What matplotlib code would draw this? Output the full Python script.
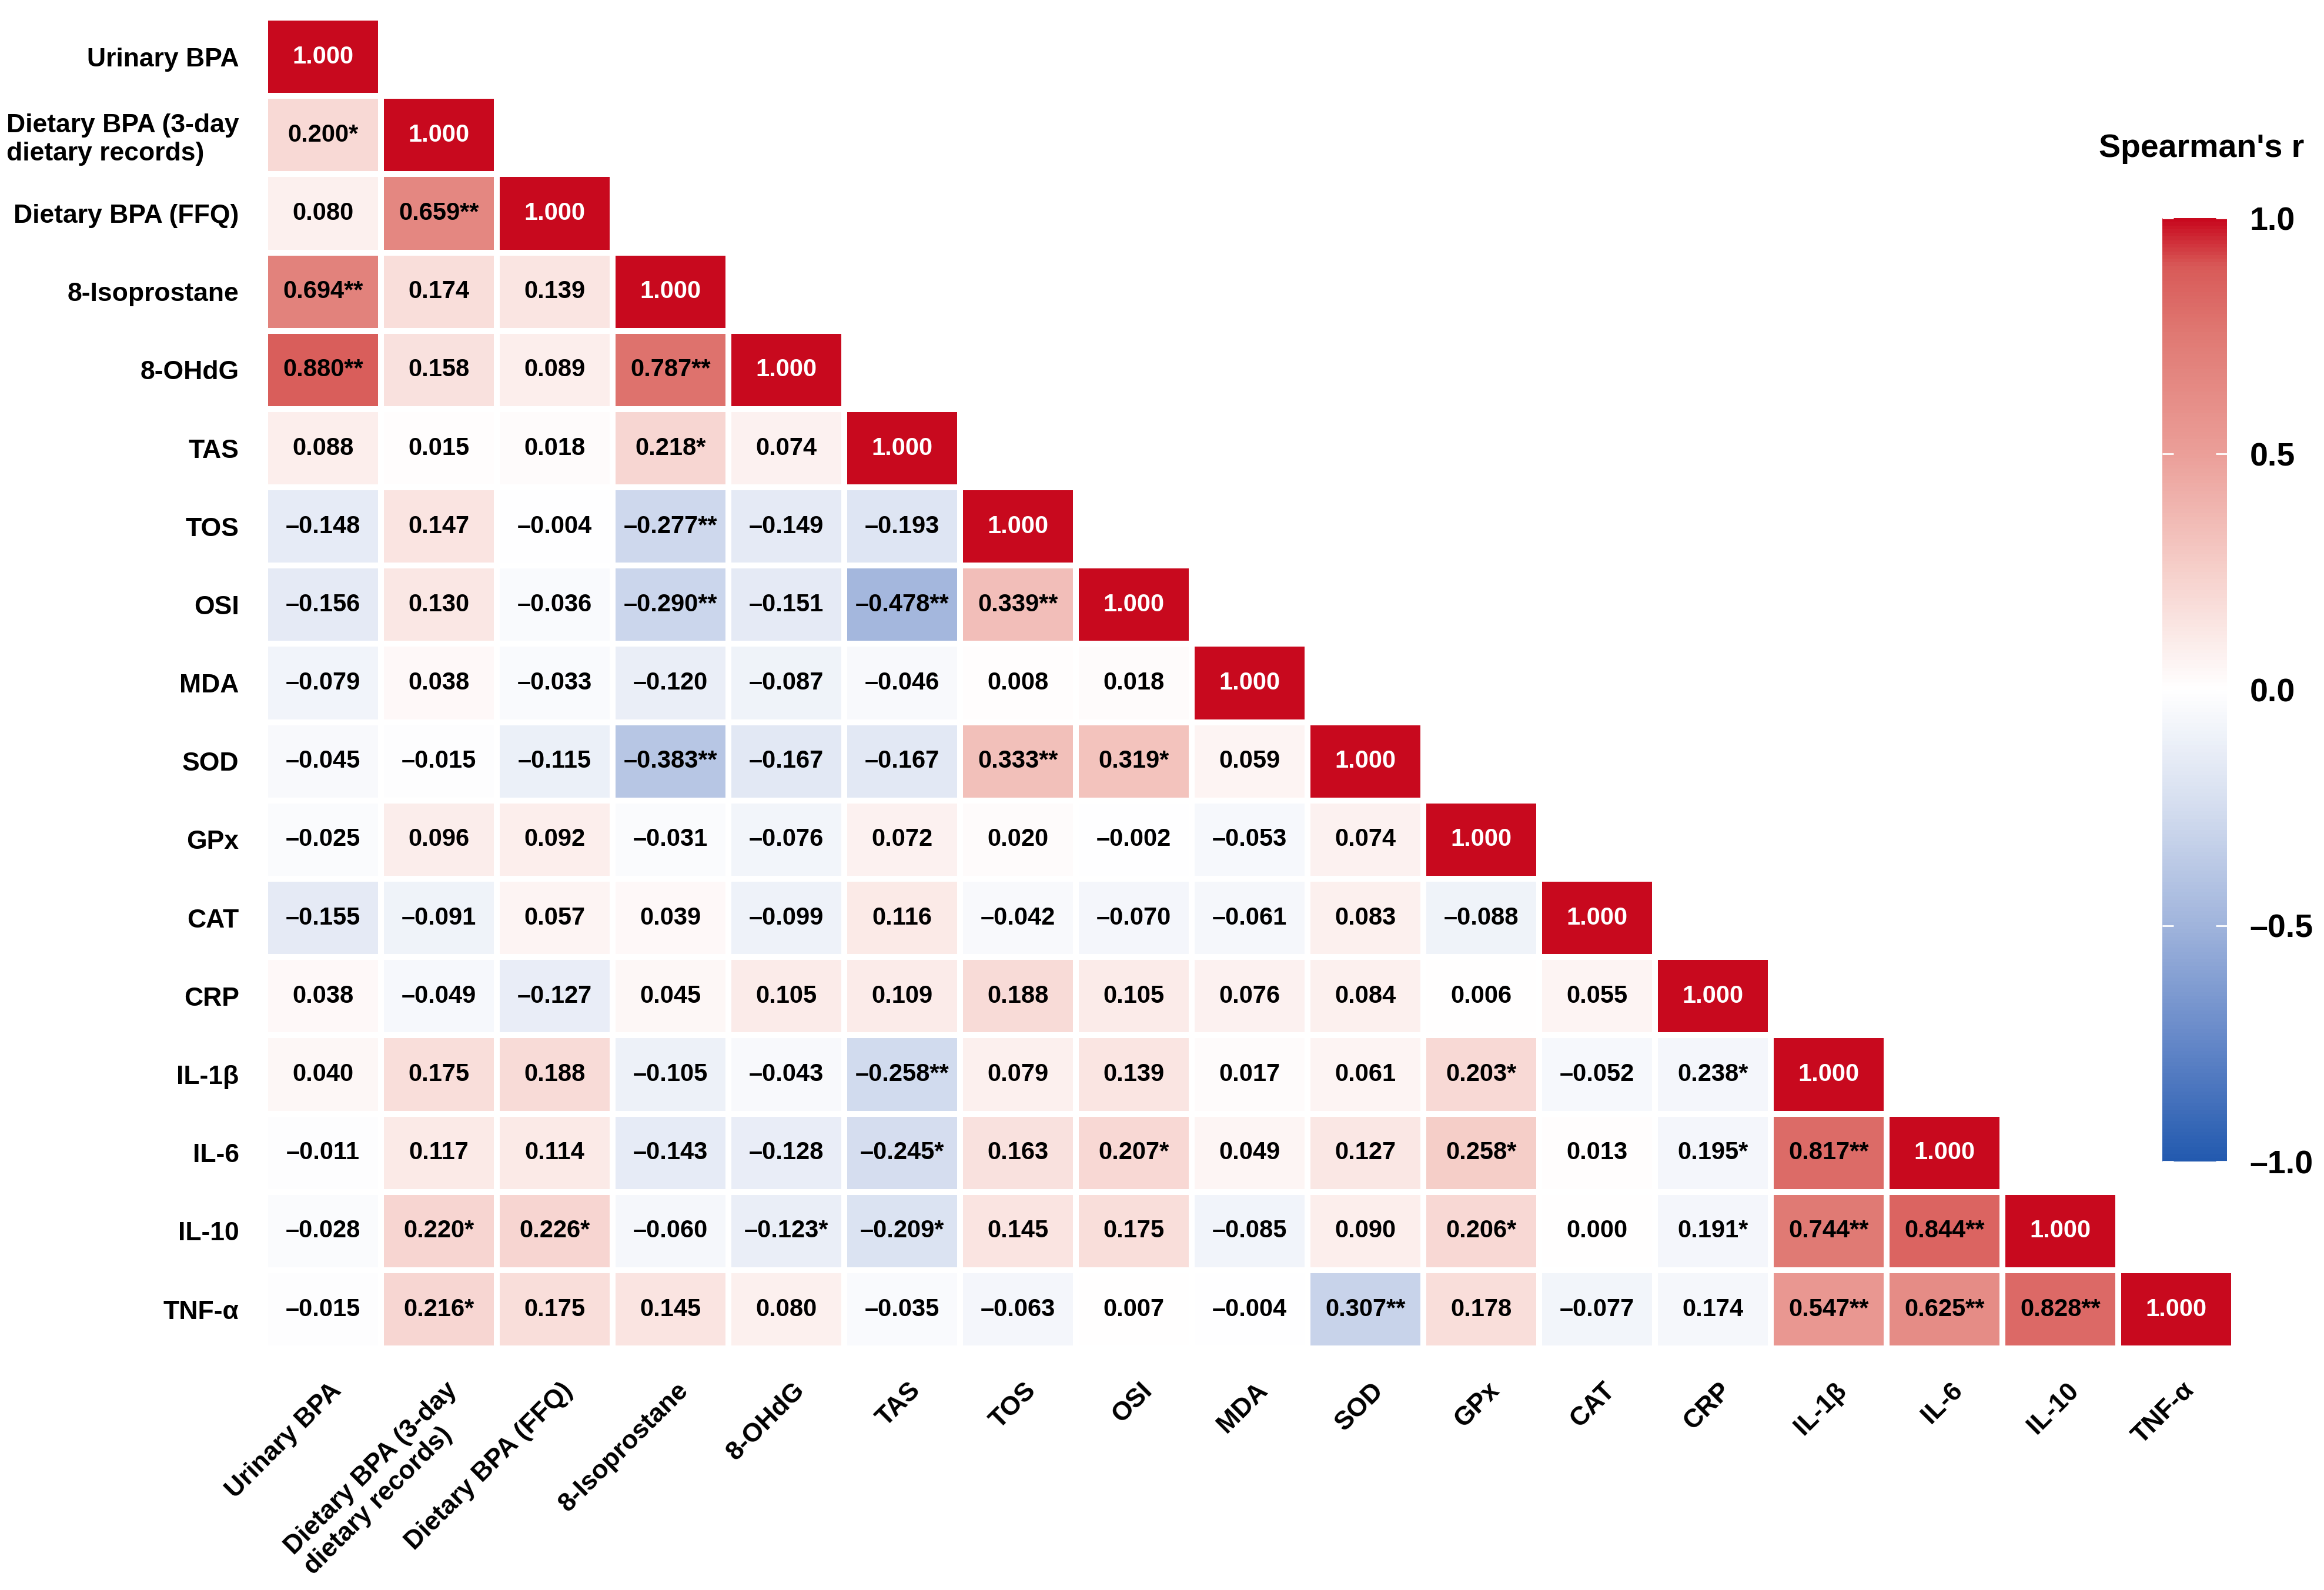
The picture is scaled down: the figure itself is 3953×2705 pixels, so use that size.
import numpy as np
import matplotlib
matplotlib.use("Agg")
import matplotlib.pyplot as plt
from matplotlib.colors import LinearSegmentedColormap

plt.rcParams['font.family'] = ['Liberation Sans', 'DejaVu Sans']
plt.rcParams['font.weight'] = 'bold'

# variable names (rows and columns)
variables = ["Urinary BPA", "Dietary BPA (3-day\ndietary records)", "Dietary BPA (FFQ)",
             "8-Isoprostane", "8-OHdG", "TAS", "TOS", "OSI", "MDA", "SOD", "GPx",
             "CAT", "CRP", "IL-1β", "IL-6", "IL-10", "TNF-α"]

# lower triangle of Spearman's r as printed in the cells
cells = [
    ["1.000"],
    ["0.200*", "1.000"],
    ["0.080", "0.659**", "1.000"],
    ["0.694**", "0.174", "0.139", "1.000"],
    ["0.880**", "0.158", "0.089", "0.787**", "1.000"],
    ["0.088", "0.015", "0.018", "0.218*", "0.074", "1.000"],
    ["-0.148", "0.147", "-0.004", "-0.277**", "-0.149", "-0.193", "1.000"],
    ["-0.156", "0.130", "-0.036", "-0.290**", "-0.151", "-0.478**", "0.339**", "1.000"],
    ["-0.079", "0.038", "-0.033", "-0.120", "-0.087", "-0.046", "0.008", "0.018", "1.000"],
    ["-0.045", "-0.015", "-0.115", "-0.383**", "-0.167", "-0.167", "0.333**", "0.319*", "0.059", "1.000"],
    ["-0.025", "0.096", "0.092", "-0.031", "-0.076", "0.072", "0.020", "-0.002", "-0.053", "0.074", "1.000"],
    ["-0.155", "-0.091", "0.057", "0.039", "-0.099", "0.116", "-0.042", "-0.070", "-0.061", "0.083", "-0.088", "1.000"],
    ["0.038", "-0.049", "-0.127", "0.045", "0.105", "0.109", "0.188", "0.105", "0.076", "0.084", "0.006", "0.055", "1.000"],
    ["0.040", "0.175", "0.188", "-0.105", "-0.043", "-0.258**", "0.079", "0.139", "0.017", "0.061", "0.203*", "-0.052", "0.238*", "1.000"],
    ["-0.011", "0.117", "0.114", "-0.143", "-0.128", "-0.245*", "0.163", "0.207*", "0.049", "0.127", "0.258*", "0.013", "0.195*", "0.817**", "1.000"],
    ["-0.028", "0.220*", "0.226*", "-0.060", "-0.123*", "-0.209*", "0.145", "0.175", "-0.085", "0.090", "0.206*", "0.000", "0.191*", "0.744**", "0.844**", "1.000"],
    ["-0.015", "0.216*", "0.175", "0.145", "0.080", "-0.035", "-0.063", "0.007", "-0.004", "0.307**", "0.178", "-0.077", "0.174", "0.547**", "0.625**", "0.828**", "1.000"],
]

# cells whose fill colour in the figure does not follow the printed value
shade_override = {(13, 12): -0.07, (14, 12): -0.07, (15, 12): -0.07,
                  (16, 12): -0.06, (16, 9): -0.31}

cbar_ticks = [-1.0, -0.5, 0.0, 0.5, 1.0]

n = len(variables)
vals = np.full((n, n), np.nan)
for i, row in enumerate(cells):
    for j, s in enumerate(row):
        vals[i, j] = float(s.rstrip('*'))
shade = vals.copy()
for (i, j), v in shade_override.items():
    shade[i, j] = v
masked = np.ma.masked_invalid(shade)

cmap = LinearSegmentedColormap.from_list('spearman', [
    (0.0, '#235aaf'), (0.125, '#6487c8'), (0.25, '#a0b4dc'), (0.375, '#d4ddef'),
    (0.5, '#ffffff'), (0.625, '#f6d0cb'), (0.75, '#eb9f99'), (0.875, '#e07a74'),
    (0.95, '#d85a58'), (1.0, '#c8091e')])

fig = plt.figure(figsize=(3953 / 200, 2705 / 200), dpi=200)
ax = fig.add_axes([0.1141, 0.1519, 0.8472, 0.8370])
mesh = ax.pcolormesh(np.arange(n + 1), np.arange(n + 1), masked, cmap=cmap,
                     vmin=-1, vmax=1, edgecolors='white', linewidth=3)
ax.set_xlim(0, n)
ax.set_ylim(n, 0)
for s in ax.spines.values():
    s.set_visible(False)

ax.set_xticks([])
ax.set_yticks(np.arange(n) + 0.5)
ax.set_yticklabels(variables, fontsize=16, fontweight='bold')
ax.tick_params(axis='y', length=0, pad=16)
for lbl in ax.get_yticklabels():
    lbl.set_multialignment('left')

# numbers in the cells
for i, row in enumerate(cells):
    for j, s in enumerate(row):
        col = 'white' if vals[i, j] >= 0.95 else 'black'
        ax.text(j + 0.5, i + 0.5, s.replace('-', '–'), ha='center', va='center',
                fontsize=15, fontweight='bold', color=col)

# rotated column labels
for j, name in enumerate(variables):
    ax.text(j + 0.55, n + 0.38, name, rotation=45, ha='right', va='top',
            rotation_mode='anchor', multialignment='left',
            fontsize=16, fontweight='bold')

# colorbar
cax = fig.add_axes([0.9304, 0.2695, 0.0278, 0.5933])
cb = fig.colorbar(mesh, cax=cax, ticks=cbar_ticks)
cb.outline.set_visible(False)
cb.set_ticklabels([f"{t:.1f}".replace('-', '–') for t in cbar_ticks])
cax.tick_params(direction='in', color='white', labelcolor='black', length=7,
                width=1, left=True, right=True, labelsize=20, pad=14)
fig.text(0.9474, 0.9065, "Spearman's r", ha='center', va='center',
         fontsize=20, fontweight='bold')

fig.savefig('out.png', dpi=200, facecolor='white')
